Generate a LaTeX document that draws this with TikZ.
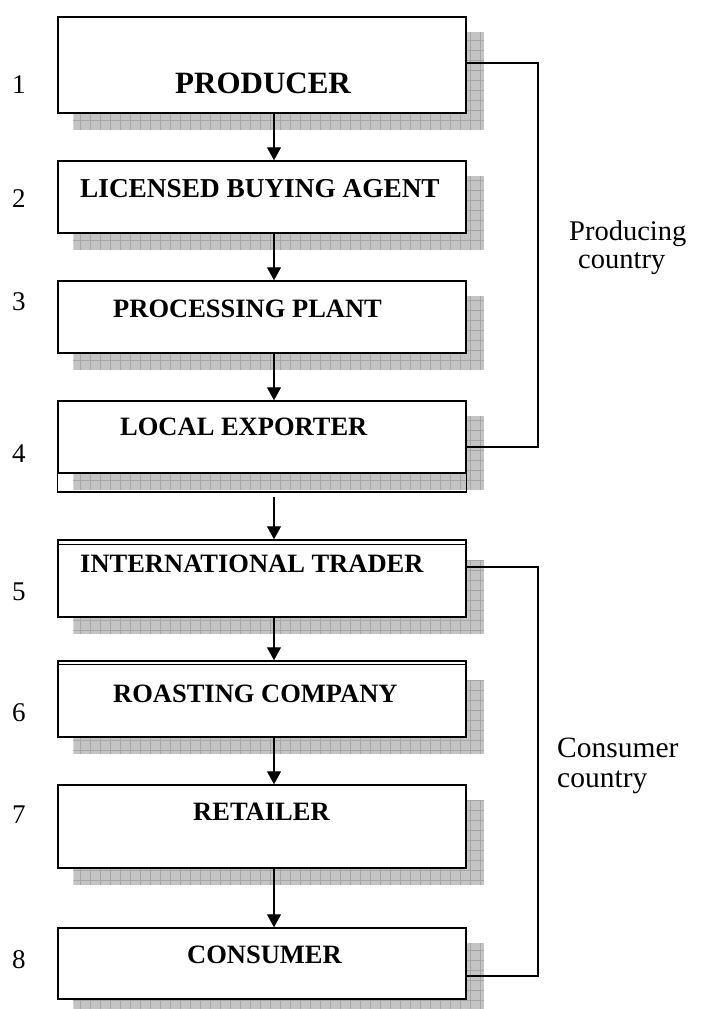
\documentclass[tikz,border=0pt]{standalone}
\usepackage{fontspec}
\setmainfont{Liberation Serif}
\usetikzlibrary{arrows.meta,calc,backgrounds}

\definecolor{shadegray}{HTML}{C4C4C4}
\definecolor{gridgray}{HTML}{A6A6A6}

\tikzset{
  stage/.style={draw, line width=1.5pt, fill=white, minimum width=408pt, inner sep=0pt},
  stagetext/.style={anchor=base west, inner sep=0pt, font=\bfseries\fontsize{26.5}{30}\selectfont},
  rank/.style={anchor=base west, inner sep=0pt, font=\fontsize{27}{30}\selectfont},
  side/.style={anchor=base west, inner sep=0pt, align=left},
  flow/.style={-{Triangle[length=13pt,width=14pt]}, line width=1.4pt},
  bracket/.style={line width=1.4pt},
  gridline/.style={draw=gridgray, line width=0.6pt}
}

\begin{document}
\begin{tikzpicture}[x=1pt,y=-1pt]
\useasboundingbox (0,0) rectangle (704,1009);

% stages of the chain
\node[stage, minimum height=96pt] (b1) at (262,65) {};
\node[stage, minimum height=72pt] (b2) at (262,197) {};
\node[stage, minimum height=72pt] (b3) at (262,317) {};
\node[stage, minimum height=72pt] (b4) at (262,437) {};
\node[stage, minimum height=77pt] (b5) at (262,578.5) {};
\node[stage, minimum height=76pt] (b6) at (262,699) {};
\node[stage, minimum height=83pt] (b7) at (262,826.5) {};
\node[stage, minimum height=71pt] (b8) at (262,963.5) {};

% double edges
\coordinate (b4base) at (262,492);
\draw[line width=1.2pt] (b4.north west) rectangle (b4.east |- b4base);
\draw[line width=1.2pt] ([yshift=-5pt]b5.north west) -- ([yshift=-5pt]b5.north east);
\draw[line width=1.2pt] ([yshift=-4pt]b6.north west) -- ([yshift=-4pt]b6.north east);

% hatched shadows
\begin{scope}[on background layer]
\foreach \b/\t in {b1/16,b2/16,b3/16,b4/16,b5/21,b6/20,b7/16,b8/16}{
  \begin{scope}
    \clip ($(\b.north west)+(16,\t)$) rectangle ($(\b.south east)+(17,16)$);
    \fill[shadegray] ($(\b.north west)+(16,\t)$) rectangle ($(\b.south east)+(17,16)$);
    \draw[gridline, step=10pt] (0,0) grid (704,1020);
  \end{scope}
}
\end{scope}

% labels
\node[stagetext, font=\bfseries\fontsize{31}{34}\selectfont] (t1) at (175,93) {PRODUCER};
\node[stagetext, font=\bfseries\fontsize{27.3}{30}\selectfont] (t2) at (80,197) {LICENSED BUYING AGENT};
\node[stagetext] (t3) at (113,317) {PROCESSING PLANT};
\node[stagetext] (t4) at (120,435) {LOCAL EXPORTER};
\node[stagetext] (t5) at (80,572) {INTERNATIONAL TRADER};
\node[stagetext] (t6) at (113,702) {ROASTING COMPANY};
\node[stagetext] (t7) at (193,820) {RETAILER};
\node[stagetext] (t8) at (187,963) {CONSUMER};

% numbering
\node[rank] (n1) at (12,93) {1};
\node[rank] (n2) at (12,207) {2};
\node[rank] (n3) at (12,310) {3};
\node[rank] (n4) at (12,462) {4};
\node[rank] (n5) at (12,600) {5};
\node[rank] (n6) at (12,721) {6};
\node[rank] (n7) at (12,823) {7};
\node[rank] (n8) at (12,968) {8};

% flow arrows
\coordinate (ax) at (274,0);
\draw[flow] (b1.south -| ax) -- (b2.north -| ax);
\draw[flow] (b2.south -| ax) -- (b3.north -| ax);
\draw[flow] (b3.south -| ax) -- (b4.north -| ax);
\draw[flow] ([yshift=-5pt]b4base -| ax) -- (b5.north -| ax);
\draw[flow] (b5.south -| ax) -- (b6.north -| ax);
\draw[flow] (b6.south -| ax) -- (b7.north -| ax);
\draw[flow] (b7.south -| ax) -- (b8.north -| ax);

% country brackets
\coordinate (pctop) at (538,63);
\coordinate (pcbot) at (538,447);
\draw[bracket] (b1.east |- pctop) -- (pctop) -- (pcbot) -- (b4.east |- pcbot);
\coordinate (cctop) at (538,567);
\coordinate (ccbot) at (538,976);
\draw[bracket] (b5.east |- cctop) -- (cctop) -- (ccbot) -- (b8.east |- ccbot);

\node[side, font=\fontsize{28.5}{28}\selectfont] (pc) at (569,268) {Producing\\\hspace*{9pt}country};
\node[side, font=\fontsize{29.5}{30}\selectfont] (cc) at (557,787) {Consumer\\country};
\end{tikzpicture}
\end{document}
